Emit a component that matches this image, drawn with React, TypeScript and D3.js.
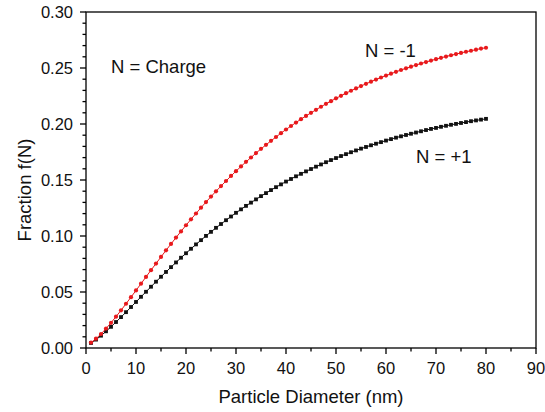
import React from "react";
import * as d3 from "d3";

const diameters: number[] = Array.from({ length: 80 }, (_, i) => i + 1);

const fracNeg1: number[] = [
  0.0048, 0.0083, 0.0125, 0.0173, 0.0225, 0.0280, 0.0336, 0.0395, 0.0454, 0.0514,
  0.0574, 0.0635, 0.0695, 0.0754, 0.0813, 0.0872, 0.0929, 0.0986, 0.1041, 0.1096,
  0.1149, 0.1201, 0.1253, 0.1303, 0.1352, 0.1399, 0.1446, 0.1491, 0.1536, 0.1579,
  0.1621, 0.1662, 0.1701, 0.1740, 0.1778, 0.1814, 0.1850, 0.1884, 0.1918, 0.1951,
  0.1982, 0.2013, 0.2043, 0.2072, 0.2100, 0.2127, 0.2154, 0.2180, 0.2204, 0.2229,
  0.2252, 0.2275, 0.2297, 0.2318, 0.2339, 0.2359, 0.2378, 0.2397, 0.2415, 0.2432,
  0.2449, 0.2466, 0.2482, 0.2497, 0.2512, 0.2526, 0.2540, 0.2553, 0.2566, 0.2579,
  0.2591, 0.2602, 0.2614, 0.2624, 0.2635, 0.2645, 0.2654, 0.2664, 0.2673, 0.2681,
];

const fracPos1: number[] = [
  0.0045, 0.0075, 0.0110, 0.0149, 0.0189, 0.0232, 0.0276, 0.0320, 0.0366, 0.0411,
  0.0457, 0.0502, 0.0547, 0.0592, 0.0636, 0.0679, 0.0722, 0.0764, 0.0806, 0.0846,
  0.0886, 0.0925, 0.0963, 0.1001, 0.1037, 0.1073, 0.1107, 0.1141, 0.1174, 0.1207,
  0.1238, 0.1269, 0.1298, 0.1327, 0.1356, 0.1383, 0.1410, 0.1436, 0.1461, 0.1486,
  0.1509, 0.1533, 0.1555, 0.1577, 0.1598, 0.1619, 0.1639, 0.1659, 0.1678, 0.1696,
  0.1714, 0.1731, 0.1748, 0.1764, 0.1780, 0.1795, 0.1810, 0.1824, 0.1838, 0.1852,
  0.1865, 0.1878, 0.1890, 0.1902, 0.1913, 0.1924, 0.1935, 0.1946, 0.1956, 0.1965,
  0.1975, 0.1984, 0.1993, 0.2001, 0.2009, 0.2017, 0.2025, 0.2032, 0.2039, 0.2046,
];

const xTicks: number[] = [0, 10, 20, 30, 40, 50, 60, 70, 80, 90];
const xMinorTicks: number[] = [5, 15, 25, 35, 45, 55, 65, 75, 85];
const yTicks: number[] = [0, 0.05, 0.1, 0.15, 0.2, 0.25, 0.3];
const yMinorTicks: number[] = d3.range(0, 31).map((i) => i / 100).filter((v) => Math.round(v * 100) % 5 !== 0);

const xTitle = "Particle Diameter (nm)";
const yTitle = "Fraction f(N)";
const noteCharge = "N = Charge";
const labelNeg = "N = -1";
const labelPos = "N = +1";

const W = 545;
const H = 412;
const M = { left: 86, right: 536, top: 12, bottom: 348 };
const FONT = "'Liberation Sans', Arial, Helvetica, sans-serif";
const RED = "#e8191c";
const BLACK = "#111111";

export default function App() {
  const x = d3.scaleLinear().domain([0, 90]).range([M.left, M.right]);
  const y = d3.scaleLinear().domain([0, 0.3]).range([M.bottom, M.top]);

  const negPts = diameters.map((d, i) => [d, fracNeg1[i]] as [number, number]);
  const posPts = diameters.map((d, i) => [d, fracPos1[i]] as [number, number]);
  const line = d3
    .line<[number, number]>()
    .x((p) => x(p[0]))
    .y((p) => y(p[1]));

  return (
    <svg
      width={W}
      height={H}
      viewBox={`0 0 ${W} ${H}`}
      style={{ position: "absolute", left: 0, top: 0, background: "#fff" }}
      fontFamily={FONT}
    >
      <rect x={0} y={0} width={W} height={H} fill="#fff" />

      {/* series N=+1 (black squares) */}
      <path d={line(posPts) || ""} fill="none" stroke={BLACK} strokeWidth={1} />
      {posPts.map((p, i) => (
        <rect
          key={`p${i}`}
          x={x(p[0]) - 1.9}
          y={y(p[1]) - 1.9}
          width={3.8}
          height={3.8}
          fill={BLACK}
        />
      ))}

      {/* series N=-1 (red circles) */}
      <path d={line(negPts) || ""} fill="none" stroke={RED} strokeWidth={1} />
      {negPts.map((p, i) => (
        <circle key={`n${i}`} cx={x(p[0])} cy={y(p[1])} r={2.1} fill={RED} />
      ))}

      {/* frame */}
      <rect
        x={M.left}
        y={M.top}
        width={M.right - M.left}
        height={M.bottom - M.top}
        fill="none"
        stroke="#000"
        strokeWidth={1.3}
      />

      {/* x ticks */}
      {xTicks.map((t) => (
        <g key={`xt${t}`}>
          <line x1={x(t)} x2={x(t)} y1={M.bottom} y2={M.bottom + 6} stroke="#000" strokeWidth={1.3} />
          <text x={x(t)} y={374} textAnchor="middle" fontSize={16.5} fill="#111">
            {t}
          </text>
        </g>
      ))}
      {xMinorTicks.map((t) => (
        <line key={`xm${t}`} x1={x(t)} x2={x(t)} y1={M.bottom} y2={M.bottom + 3.5} stroke="#000" strokeWidth={1.3} />
      ))}

      {/* y ticks */}
      {yTicks.map((t) => (
        <g key={`yt${t}`}>
          <line x1={M.left - 6} x2={M.left} y1={y(t)} y2={y(t)} stroke="#000" strokeWidth={1.3} />
          <text x={73} y={y(t) + 6} textAnchor="end" fontSize={16.5} fill="#111">
            {t.toFixed(2)}
          </text>
        </g>
      ))}
      {yMinorTicks.map((t) => (
        <line key={`ym${t}`} x1={M.left - 3.5} x2={M.left} y1={y(t)} y2={y(t)} stroke="#000" strokeWidth={1.3} />
      ))}

      {/* axis titles */}
      <text x={(M.left + M.right) / 2} y={403} textAnchor="middle" fontSize={18.5} fill="#111">
        {xTitle}
      </text>
      <text
        transform={`translate(31, 190) rotate(-90)`}
        textAnchor="middle"
        fontSize={18.5}
        fill="#111"
      >
        {yTitle}
      </text>

      {/* annotations */}
      <text x={111} y={73} fontSize={18.5} fill="#111">
        {noteCharge}
      </text>
      <text x={365} y={57} fontSize={18.5} fill="#111">
        {labelNeg}
      </text>
      <text x={416} y={163} fontSize={18.5} fill="#111">
        {labelPos}
      </text>
    </svg>
  );
}
